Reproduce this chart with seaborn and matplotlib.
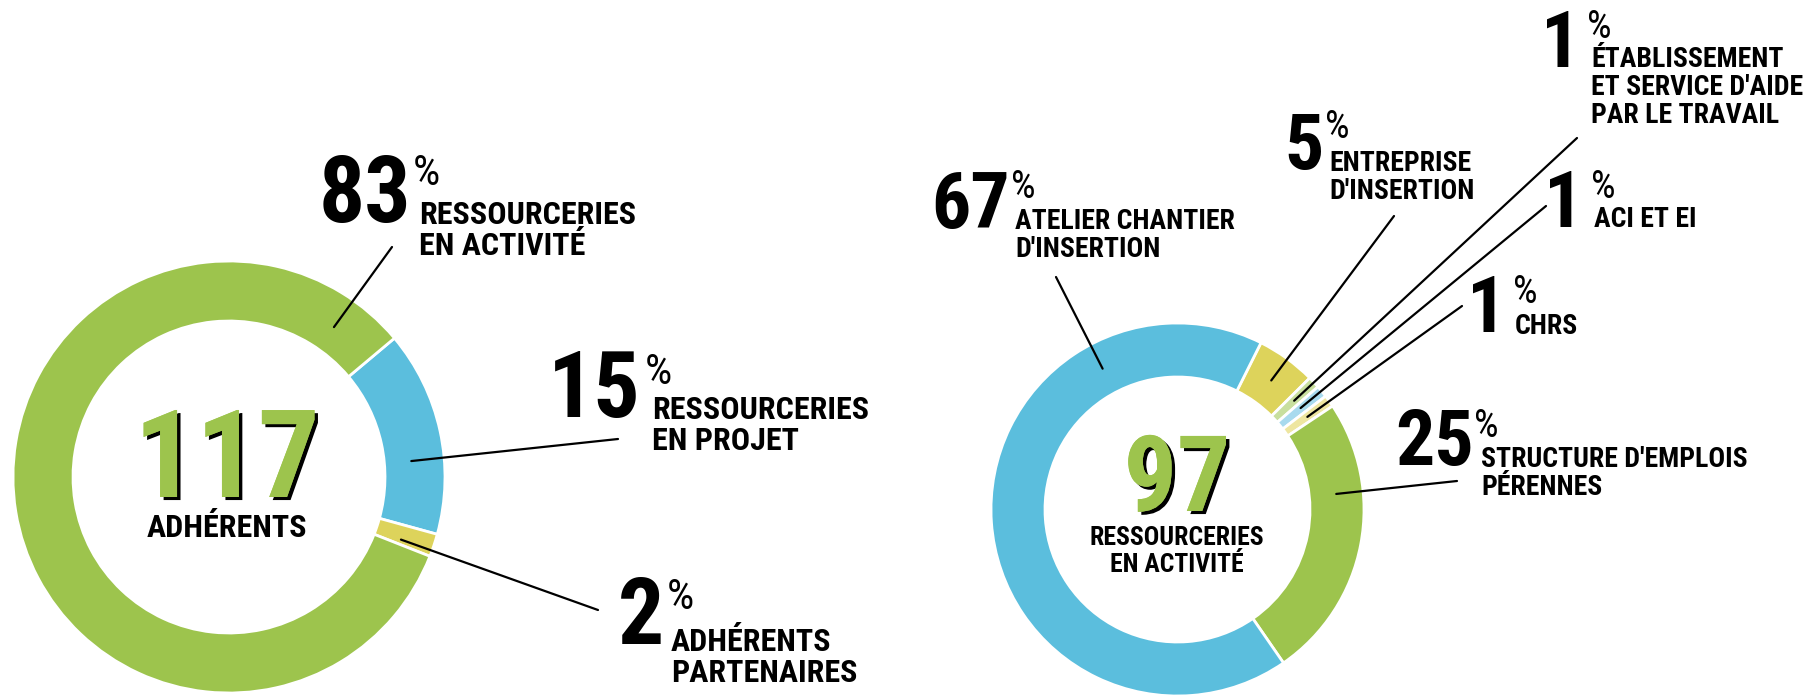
import numpy as np
import matplotlib
matplotlib.use('Agg')
import matplotlib.pyplot as plt
import matplotlib.patheffects as pe
import seaborn as sns
from matplotlib import font_manager as fm

W, H = 1815, 698

# donnees - donut de gauche (adherents)
left_counts = [18, 2, 97]
left_pcts = ['15', '2', '83']
left_lines = [['RESSOURCERIES', 'EN PROJET'],
              ['ADHÉRENTS', 'PARTENAIRES'],
              ['RESSOURCERIES', 'EN ACTIVITÉ']]
left_colors = ['#5BBEDD', '#DDD35B', '#9DC44D']
left_total = '117'
left_caption = ['ADHÉRENTS']

# donnees - donut de droite (ressourceries en activite)
right_counts = [5, 1, 1, 1, 24, 65]
right_pcts = ['5', '1', '1', '1', '25', '67']
right_lines = [['ENTREPRISE', "D'INSERTION"],
               ['ÉTABLISSEMENT', "ET SERVICE D'AIDE", 'PAR LE TRAVAIL'],
               ['ACI ET EI'],
               ['CHRS'],
               ["STRUCTURE D'EMPLOIS", 'PÉRENNES'],
               ['ATELIER CHANTIER', "D'INSERTION"]]
right_colors = ['#DDD35B', '#C8DF9E', '#A8DAEE', '#EEE6A0', '#9DC44D', '#5BBEDD']
right_total = '97'
right_caption = ['RESSOURCERIES', 'EN ACTIVITÉ']

GREEN = '#9DC44D'

sns.set_theme(style='white')
installed = {f.name for f in fm.fontManager.ttflist}
font = 'DejaVu Sans'
for cand in ['Liberation Sans Narrow', 'Roboto Condensed', 'Open Sans Condensed', 'Liberation Sans']:
    if cand in installed:
        font = cand
        break
plt.rcParams['font.family'] = [font, 'DejaVu Sans']


def fy(y):
    # coordonnees image (y vers le bas) -> axes (y vers le haut)
    return H - y


fig = plt.figure(figsize=(W / 100, H / 100), dpi=100)
ax = fig.add_axes([0, 0, 1, 1])

# centre, rayon, epaisseur de l'anneau
L_C, L_R, L_W = (229, fy(477)), 216, 60
R_C, R_R, R_W = (1177.5, fy(509.5)), 186.5, 54

ax.pie(left_counts, colors=left_colors, startangle=40, counterclock=False,
       center=L_C, radius=L_R,
       wedgeprops=dict(width=L_W, edgecolor='white', linewidth=2))
ax.pie(right_counts, colors=right_colors, startangle=63.4, counterclock=False,
       center=R_C, radius=R_R,
       wedgeprops=dict(width=R_W, edgecolor='white', linewidth=2))

ax.set_xlim(0, W)
ax.set_ylim(0, H)
ax.set_aspect('equal')
ax.axis('off')

# bord droit du nombre, baseline, x du %, haut du %,
# x du texte, baseline 1re ligne, debut du trait, angle d'ancrage
left_layout = [
    dict(nx=641, ny=417, px=645, py=352, tx=652, ty=419, ls=(618, 439), ang=5),
    dict(nx=664, ny=644, px=667, py=577, tx=671, ty=651, ls=(598, 610), ang=-20),
    dict(nx=411, ny=222, px=413, py=153, tx=419, ty=224, ls=(392, 247), ang=55),
]
right_layout = [
    dict(nx=1324, ny=169, px=1325, py=109, tx=1329, ty=171, ls=(1394, 216), ang=54),
    dict(nx=1580, ny=67, px=1587, py=9, tx=1591, ty=67, ls=(1577, 138), ang=43),
    dict(nx=1583, ny=227, px=1591, py=169, tx=1594, ty=227, ls=(1546, 206), ang=39.5),
    dict(nx=1506, ny=332, px=1513, py=274, tx=1515, ty=334, ls=(1462, 306), ang=35.5),
    dict(nx=1474, ny=465, px=1474, py=408, tx=1481, ty=467, ls=(1457, 481), ang=5.6),
    dict(nx=1010, ny=228, px=1011, py=169, tx=1015, ty=229, ls=(1056, 277), ang=118),
]


def callout(pct, lines, lay, center, rmid, nsize, psize, tsize, step):
    ax.text(lay['nx'], fy(lay['ny']), pct, fontsize=nsize, fontweight='bold',
            ha='right', va='baseline', color='black')
    ax.text(lay['px'], fy(lay['py']), '%', fontsize=psize, ha='left', va='top',
            color='black')
    for i, line in enumerate(lines):
        ax.text(lay['tx'], fy(lay['ty'] + i * step), line, fontsize=tsize,
                fontweight='bold', ha='left', va='baseline', color='black')
    a = np.deg2rad(lay['ang'])
    ex = center[0] + rmid * np.cos(a)
    ey = center[1] + rmid * np.sin(a)
    ax.plot([lay['ls'][0], ex], [fy(lay['ls'][1]), ey], color='black', lw=1.6,
            solid_capstyle='round')


for pct, lines, lay in zip(left_pcts, left_lines, left_layout):
    callout(pct, lines, lay, L_C, L_R - L_W / 2 - 3, 66, 31, 23, 31)
for pct, lines, lay in zip(right_pcts, right_lines, right_layout):
    callout(pct, lines, lay, R_C, R_R - R_W / 2, 56, 28, 20, 28)

# ombre noire decalee sous le chiffre central
shadow = [pe.withSimplePatchShadow(offset=(2.5, -2.2), shadow_rgbFace='black', alpha=1.0),
          pe.Normal()]


def centre(cx, base, total, caption, nsize, csize, cbase, step):
    ax.text(cx, fy(base), total, fontsize=nsize, fontweight='bold',
            ha='center', va='baseline', color=GREEN, path_effects=shadow)
    for i, line in enumerate(caption):
        ax.text(cx, fy(cbase + i * step), line, fontsize=csize, fontweight='bold',
                ha='center', va='baseline', color='black')


centre(227, 497, left_total, left_caption, 88, 23, 537, 28)
centre(1177, 511, right_total, right_caption, 76, 18.5, 545, 27)

fig.savefig('out.png', dpi=100, facecolor='white')
